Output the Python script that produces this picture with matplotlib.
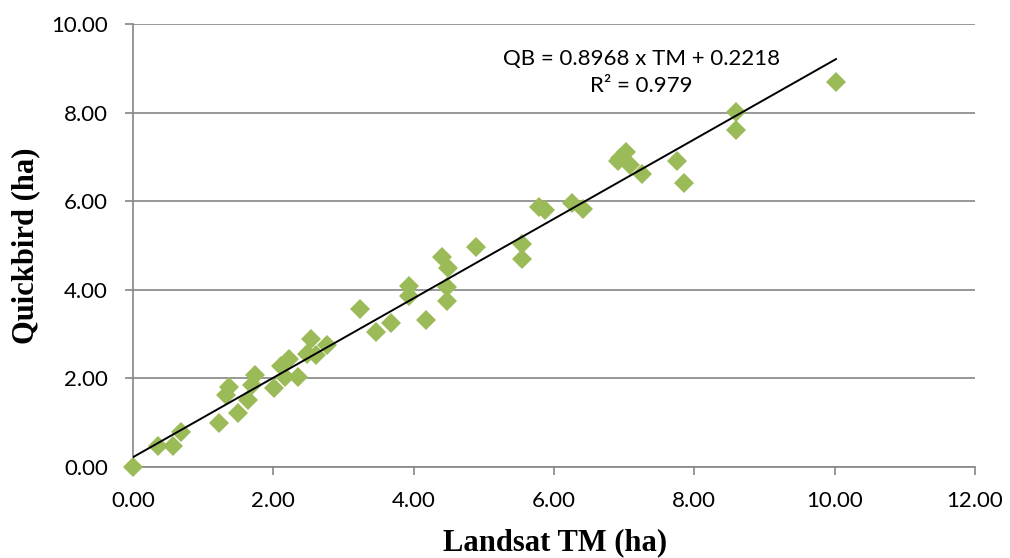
import numpy as np
import matplotlib
matplotlib.use("Agg")
import matplotlib.pyplot as plt

# areas (ha)
landsat_tm = [0.00, 0.36, 0.57, 0.68, 1.22, 1.32, 1.37, 1.50, 1.64, 1.69, 1.74,
              2.01, 2.11, 2.16, 2.22, 2.35, 2.48, 2.54, 2.61, 2.76, 3.23, 3.46,
              3.67, 3.93, 3.93, 4.18, 4.40, 4.47, 4.48, 4.49, 4.89, 5.55, 5.55,
              5.79, 5.87, 6.26, 6.42, 6.91, 6.94, 7.03, 7.08, 7.26, 7.75, 7.86,
              8.60, 8.60, 10.02]
quickbird = [0.00, 0.48, 0.48, 0.78, 0.99, 1.63, 1.81, 1.21, 1.51, 1.85, 2.08,
             1.78, 2.28, 2.03, 2.43, 2.04, 2.55, 2.88, 2.53, 2.75, 3.56, 3.05,
             3.24, 4.09, 3.86, 3.32, 4.73, 4.06, 3.75, 4.49, 4.97, 5.03, 4.70,
             5.88, 5.79, 5.95, 5.82, 6.90, 6.97, 7.12, 6.82, 6.61, 6.91, 6.40,
             8.02, 7.61, 8.70]

slope = 0.8968
intercept = 0.2218
eq_text = "QB = 0.8968 x TM + 0.2218\nR\u00b2 = 0.979"

x_ticks = [0, 2, 4, 6, 8, 10, 12]
y_ticks = [0, 2, 4, 6, 8, 10]

tick_font = "Lato"
label_font = "Liberation Serif"
grey = "#868686"

fig = plt.figure(figsize=(10.10, 5.58), dpi=100)
ax = fig.add_axes([0.1317, 0.1631, 0.8336, 0.7939])

ax.yaxis.grid(True, color=grey, linewidth=1.2)
ax.set_axisbelow(True)

ax.plot(landsat_tm, quickbird, linestyle="none", marker="D", markersize=10,
        color="#9BBB59", markeredgewidth=0, zorder=3, clip_on=False)

fit_x = np.array([min(landsat_tm), max(landsat_tm)])
ax.plot(fit_x, slope * fit_x + intercept, color="black", linewidth=1.4, zorder=4)

ax.text(7.25, 8.9, eq_text, ha="center", va="center", fontsize=16,
        family=tick_font, linespacing=1.45, zorder=5)

ax.set_xlim(0, 12)
ax.set_ylim(0, 10)
ax.set_xticks(x_ticks)
ax.set_yticks(y_ticks)
ax.set_xticklabels([f"{v:.2f}" for v in x_ticks], family=tick_font, fontsize=16)
ax.set_yticklabels([f"{v:.2f}" for v in y_ticks], family=tick_font, fontsize=16)
ax.tick_params(axis="both", direction="out", length=5.5, width=1.2, color=grey)
ax.tick_params(axis="x", pad=12)
ax.tick_params(axis="y", pad=12.5)

for side in ["top", "right"]:
    ax.spines[side].set_visible(False)
for side in ["left", "bottom"]:
    ax.spines[side].set_color(grey)
    ax.spines[side].set_linewidth(1.2)

ax.set_xlabel("Landsat TM (ha)", family=label_font, fontweight="bold", fontsize=22)
ax.set_ylabel("Quickbird (ha)", family=label_font, fontweight="bold", fontsize=22)
ax.xaxis.label.set_va("center")
ax.yaxis.label.set_va("center")
ax.xaxis.set_label_coords(0.501, -0.172)
ax.yaxis.set_label_coords(-0.128, 0.499)

fig.savefig("out.png", dpi=100)
